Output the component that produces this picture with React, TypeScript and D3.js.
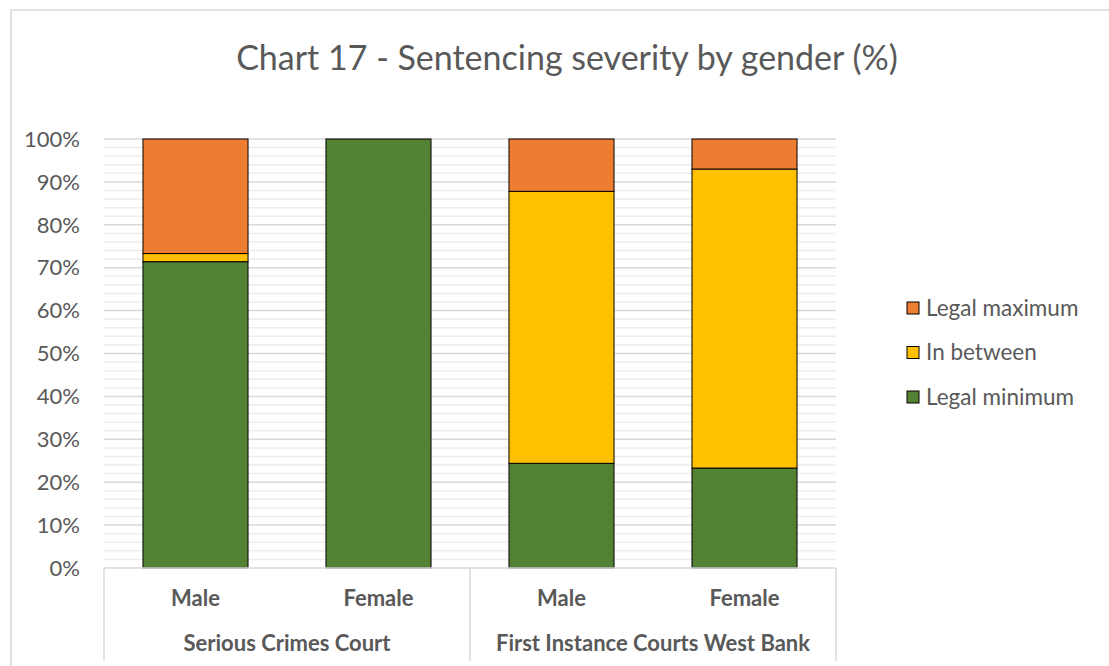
import { useEffect, useRef } from 'react';
import * as d3 from 'd3';

const groups = ['Serious Crimes Court', 'First Instance Courts West Bank'];
const categories = ['Male', 'Female', 'Male', 'Female'];
const categoryGroup = [0, 0, 1, 1];

const seriesNames = ['Legal minimum', 'In between', 'Legal maximum'];
const legalMinimum = [71.4, 100, 24.4, 23.3];
const inBetween = [1.9, 0, 63.4, 69.7];
const legalMaximum = [26.7, 0, 12.2, 7.0];

const yTicks = [0, 10, 20, 30, 40, 50, 60, 70, 80, 90, 100];

const colors: Record<string, string> = {
  'Legal minimum': '#548235',
  'In between': '#FFC000',
  'Legal maximum': '#ED7D31'
};

const FONT = 'Lato, "Open Sans", sans-serif';
const TEXT = '#595959';

export default function App() {
  const svgRef = useRef<SVGSVGElement>(null);

  useEffect(() => {
    if (!svgRef.current) return;
    const width = 1109;
    const height = 666;
    const svg = d3.select(svgRef.current);
    svg.selectAll('*').remove();
    svg.attr('width', width).attr('height', height);

    // Chart border
    svg.append('rect')
      .attr('x', 11).attr('y', 10)
      .attr('width', 1120).attr('height', 700)
      .attr('fill', 'white')
      .attr('stroke', '#d9d9d9')
      .attr('stroke-width', 1.5);

    // Title
    svg.append('text')
      .attr('x', 567).attr('y', 70)
      .attr('text-anchor', 'middle')
      .style('font-family', FONT)
      .style('font-size', '34px')
      .style('fill', TEXT)
      .text('Chart 17 - Sentencing severity by gender (%)');

    const plot = { left: 104, right: 836, top: 139, bottom: 568 };

    const x = d3.scaleBand<number>()
      .domain(categories.map((_, i) => i))
      .range([plot.left, plot.right])
      .paddingInner(0.426)
      .paddingOuter(0.213);

    const y = d3.scaleLinear().domain([0, 100]).range([plot.bottom, plot.top]);

    // Minor grid lines
    const minor = d3.range(0, 101, 2).filter(v => v % 10 !== 0);
    svg.append('g')
      .selectAll('line')
      .data(minor)
      .enter().append('line')
      .attr('x1', plot.left).attr('x2', plot.right)
      .attr('y1', d => y(d)).attr('y2', d => y(d))
      .attr('stroke', '#ededed')
      .attr('stroke-width', 1.5);

    // Major grid lines
    svg.append('g')
      .selectAll('line')
      .data(yTicks.filter(v => v > 0))
      .enter().append('line')
      .attr('x1', plot.left).attr('x2', plot.right)
      .attr('y1', d => y(d)).attr('y2', d => y(d))
      .attr('stroke', '#d9d9d9')
      .attr('stroke-width', 1.5);

    // Y tick labels
    svg.append('g')
      .selectAll('text')
      .data(yTicks)
      .enter().append('text')
      .attr('x', 80)
      .attr('y', d => y(d))
      .attr('dy', '0.35em')
      .attr('text-anchor', 'end')
      .style('font-family', FONT)
      .style('font-size', '22px')
      .style('fill', TEXT)
      .text(d => `${d}%`);

    // Stacked bars
    const rows = categories.map((c, i) => ({
      idx: i,
      'Legal minimum': legalMinimum[i],
      'In between': inBetween[i],
      'Legal maximum': legalMaximum[i]
    }));
    const stack = d3.stack<any>().keys(seriesNames);
    const stacked = stack(rows);

    stacked.forEach(layer => {
      svg.append('g')
        .selectAll('rect')
        .data(layer.filter(d => d[1] - d[0] > 0))
        .enter().append('rect')
        .attr('x', d => x(d.data.idx) as number)
        .attr('width', x.bandwidth())
        .attr('y', d => y(d[1]))
        .attr('height', d => y(d[0]) - y(d[1]))
        .attr('fill', colors[layer.key])
        .attr('stroke', '#000')
        .attr('stroke-width', 1);
    });

    // Category axis
    const axisColor = '#d9d9d9';
    svg.append('line')
      .attr('x1', plot.left).attr('x2', plot.right)
      .attr('y1', plot.bottom).attr('y2', plot.bottom)
      .attr('stroke', axisColor).attr('stroke-width', 1.5);

    const step = x.step();
    const groupEdges = [plot.left, plot.left + step * 2, plot.right];
    svg.append('g')
      .selectAll('line')
      .data(groupEdges)
      .enter().append('line')
      .attr('x1', d => d).attr('x2', d => d)
      .attr('y1', plot.bottom).attr('y2', 661)
      .attr('stroke', axisColor).attr('stroke-width', 1.5);

    svg.append('g')
      .selectAll('text')
      .data(categories)
      .enter().append('text')
      .attr('x', (_, i) => (x(i) as number) + x.bandwidth() / 2)
      .attr('y', 606)
      .attr('text-anchor', 'middle')
      .style('font-family', FONT)
      .style('font-size', '22px')
      .style('font-weight', 700)
      .style('fill', TEXT)
      .text(d => d);

    svg.append('g')
      .selectAll('text')
      .data(groups)
      .enter().append('text')
      .attr('x', (_, gi) => {
        const idxs = categoryGroup.map((g, i) => (g === gi ? i : -1)).filter(i => i >= 0);
        const x0 = x(idxs[0]) as number;
        const x1 = (x(idxs[idxs.length - 1]) as number) + x.bandwidth();
        return (x0 + x1) / 2;
      })
      .attr('y', 651)
      .attr('text-anchor', 'middle')
      .style('font-family', FONT)
      .style('font-size', '22px')
      .style('font-weight', 700)
      .style('fill', TEXT)
      .text(d => d);

    // Legend
    const legendOrder = [...seriesNames].reverse();
    const legend = svg.append('g').attr('transform', 'translate(907, 308)');
    legendOrder.forEach((name, i) => {
      const item = legend.append('g').attr('transform', `translate(0, ${i * 44.5})`);
      item.append('rect')
        .attr('x', 0).attr('y', -6)
        .attr('width', 12).attr('height', 12)
        .attr('fill', colors[name])
        .attr('stroke', '#000')
        .attr('stroke-width', 1);
      item.append('text')
        .attr('x', 19).attr('y', 0)
        .attr('dy', '0.35em')
        .style('font-family', FONT)
        .style('font-size', '22.5px')
        .style('fill', TEXT)
        .text(name);
    });
  }, []);

  return (
    <div style={{ position: 'absolute', left: 0, top: 0 }}>
      <svg ref={svgRef} style={{ display: 'block' }}></svg>
    </div>
  );
}
